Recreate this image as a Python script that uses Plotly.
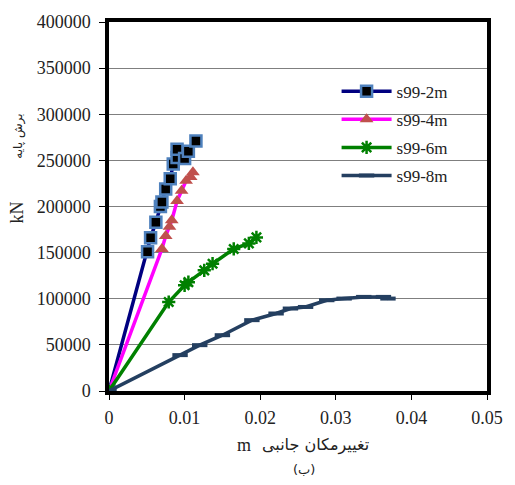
import plotly.graph_objects as go

# Data
s2_x = [0, 0.0051, 0.0055, 0.0062, 0.0068, 0.0070, 0.0075, 0.0081, 0.0085, 0.0090, 0.0090, 0.0100, 0.0105, 0.0115]
s2_y = [0, 151000, 166000, 183000, 200000, 205000, 219000, 230000, 246000, 253000, 262000, 252000, 260000, 271000]

s4_x = [0, 0.0070, 0.0075, 0.0080, 0.0083, 0.0090, 0.0096, 0.0102, 0.0108, 0.0111]
s4_y = [0, 154000, 168000, 178000, 185000, 206000, 217000, 228000, 232000, 237000]

s6_x = [0, 0.0079, 0.0100, 0.0105, 0.0126, 0.0137, 0.0165, 0.0185, 0.0195]
s6_y = [0, 96500, 114600, 118000, 130800, 138000, 154000, 160000, 166500]

s8_x = [0, 0.0094, 0.0120, 0.0150, 0.0189, 0.0221, 0.0240, 0.0260, 0.0288, 0.0311, 0.0337, 0.0363, 0.0369]
s8_y = [0, 38900, 49700, 60500, 76800, 84000, 89400, 91100, 98400, 100200, 102000, 102000, 100200]

names = ["s99-2m", "s99-4m", "s99-6m", "s99-8m"]

x_ticks = [0, 0.01, 0.02, 0.03, 0.04, 0.05]
x_tick_labels = ["0", "0.01", "0.02", "0.03", "0.04", "0.05"]
y_ticks = [0, 50000, 100000, 150000, 200000, 250000, 300000, 350000, 400000]
y_tick_labels = [str(v) for v in y_ticks]

fig = go.Figure()
fig.add_trace(go.Scatter(x=s2_x, y=s2_y, name=names[0], legendgroup="a", mode="lines+markers",
                         line=dict(color="#000080", width=3.5),
                         marker=dict(symbol="square", size=11, color="black",
                                     line=dict(color="#4f81bd", width=2.5))))
fig.add_trace(go.Scatter(x=s4_x, y=s4_y, name=names[1], legendgroup="b", mode="lines+markers",
                         line=dict(color="#ff00ff", width=3.5),
                         marker=dict(symbol="triangle-up", size=12, color="#c0504d")))
fig.add_trace(go.Scatter(x=s6_x, y=s6_y, name=names[2], legendgroup="c", mode="lines+markers",
                         line=dict(color="#008000", width=3.5),
                         marker=dict(symbol="asterisk-open", size=11,
                                     line=dict(color="#9bbb59", width=2.5))))
fig.add_trace(go.Scatter(x=s8_x, y=s8_y, name=names[3], legendgroup="d", mode="lines+markers",
                         line=dict(color="#243f60", width=3.5),
                         marker=dict(symbol="line-ew-open", size=11,
                                     line=dict(color="#8064a2", width=4))))

serif = "Liberation Serif"
arab = "DejaVu Sans"

fig.update_layout(
    width=515, height=485,
    margin=dict(l=109, r=19, t=21, b=94),
    paper_bgcolor="white", plot_bgcolor="white",
    font=dict(family=serif, size=17, color="#222"),
    showlegend=True,
    legend=dict(x=(342 - 109) / 387, y=0.86, xanchor="left", yanchor="top",
                bgcolor="rgba(255,255,255,0)", font=dict(family=serif, size=17, color="#222"),
                tracegroupgap=3, itemwidth=50),
    xaxis=dict(range=[0, 0.05], tickvals=x_ticks, ticktext=x_tick_labels,
               showgrid=False, zeroline=False,
               showline=True, linecolor="black", linewidth=3.5, mirror=True,
               ticks="outside", ticklen=5, tickwidth=1.2, tickcolor="black",
               ticklabelstandoff=3,
               tickfont=dict(family=serif, size=18, color="#222")),
    yaxis=dict(range=[0, 400000], tickvals=y_ticks, ticktext=y_tick_labels,
               showgrid=True, gridcolor="#7f7f7f", gridwidth=1.2, zeroline=False,
               showline=True, linecolor="black", linewidth=3.5, mirror=True,
               ticks="outside", ticklen=6, tickwidth=1.2, tickcolor="black",
               ticklabelstandoff=5,
               tickfont=dict(family=serif, size=18, color="#222")),
)

ann = [
    dict(text="m", x=0.357, y=-0.146, font=dict(family=serif, size=18, color="#222")),
    dict(text="تغییرمکان جانبی", x=0.545, y=-0.146, font=dict(family=arab, size=16, color="#222")),
    dict(text="(ب)", x=0.517, y=-0.213, font=dict(family=arab, size=13, color="#222")),
    dict(text="kN", x=-0.243, y=0.484, textangle=-90, font=dict(family=serif, size=18, color="#222")),
    dict(text="برش پایه", x=-0.240, y=0.69, textangle=-90, font=dict(family=arab, size=12, color="#222")),
]
for a in ann:
    fig.add_annotation(xref="paper", yref="paper", showarrow=False,
                       xanchor="center", yanchor="middle", **a)

fig.write_html("out.html")
